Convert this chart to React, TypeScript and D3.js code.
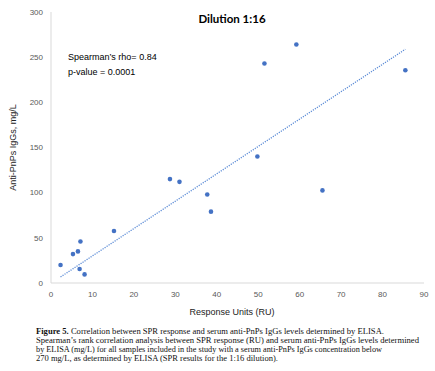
import { useEffect, useRef } from "react";
import * as d3 from "d3";

// response units (RU) and anti-PnPs IgGs (mg/L)
const responseUnits = [2.3, 5.3, 6.5, 7.1, 6.9, 8.1, 15.2, 28.7, 31.0, 37.7, 38.6, 49.8, 65.5, 51.5, 59.2, 85.5];
const igg = [20, 32, 35, 46, 15.5, 9.5, 57.5, 115, 112, 98, 79, 140, 102.5, 243, 264, 235.5];

// trendline as drawn on the figure
const trendSlope = 3.03;
const trendIntercept = -0.3;

const xTicks = [0, 10, 20, 30, 40, 50, 60, 70, 80, 90];
const yTicks = [0, 50, 100, 150, 200, 250, 300];

const title = "Dilution 1:16";
const statLines = ["Spearman\u2019s rho= 0.84", "p-value = 0.0001"];
const xLabel = "Response Units (RU)";
const yLabel = "Anti-PnPs IgGs, mg/L";
const captionLines = [
  "Correlation between SPR response and serum anti-PnPs IgGs levels determined by ELISA.",
  "Spearman\u2019s rank correlation analysis between SPR response (RU) and serum anti-PnPs IgGs levels determined",
  "by ELISA (mg/L) for all samples included in the study with a serum anti-PnPs IgGs concentration below",
  "270 mg/L, as determined by ELISA (SPR results for the 1:16 dilution).",
];
const captionWidths = [348, 383, 346, 242];

export default function App() {
  const ref = useRef<SVGSVGElement>(null);

  useEffect(() => {
    const svg = d3.select(ref.current);
    svg.selectAll("*").remove();

    const width = 435;
    const height = 371;
    const margin = { top: 12, right: 11, bottom: 88, left: 51 };

    const x = d3.scaleLinear().domain([0, 90]).range([margin.left, width - margin.right]);
    const y = d3.scaleLinear().domain([0, 300]).range([height - margin.bottom, margin.top]);

    const sans = "Liberation Sans, Arial, sans-serif";
    const axisGrey = "#d9d9d9";
    const labelGrey = "#595959";

    // axis lines
    svg.append("line")
      .attr("x1", x(0)).attr("x2", x(0))
      .attr("y1", y(0)).attr("y2", y(300))
      .attr("stroke", axisGrey).attr("stroke-width", 1);
    svg.append("line")
      .attr("x1", x(0)).attr("x2", x(90))
      .attr("y1", y(0)).attr("y2", y(0))
      .attr("stroke", axisGrey).attr("stroke-width", 1);

    // tick labels
    svg.append("g").selectAll("text").data(yTicks).join("text")
      .attr("x", x(0) - 8)
      .attr("y", d => y(d))
      .attr("dy", "0.35em")
      .attr("text-anchor", "end")
      .attr("font-family", sans)
      .attr("font-size", 8)
      .attr("fill", labelGrey)
      .text(d => d);

    svg.append("g").selectAll("text").data(xTicks).join("text")
      .attr("x", d => x(d))
      .attr("y", y(0) + 11)
      .attr("dy", "0.35em")
      .attr("text-anchor", "middle")
      .attr("font-family", sans)
      .attr("font-size", 8)
      .attr("fill", labelGrey)
      .text(d => d);

    // trendline
    const x0 = d3.min(responseUnits) as number;
    const x1 = d3.max(responseUnits) as number;
    svg.append("line")
      .attr("x1", x(x0)).attr("y1", y(trendSlope * x0 + trendIntercept))
      .attr("x2", x(x1)).attr("y2", y(trendSlope * x1 + trendIntercept))
      .attr("stroke", "#5b8bd6")
      .attr("stroke-width", 1.3)
      .attr("stroke-dasharray", "1.2 1.2");

    // points
    svg.append("g").selectAll("circle").data(responseUnits).join("circle")
      .attr("cx", d => x(d))
      .attr("cy", (d, i) => y(igg[i]))
      .attr("r", 2.3)
      .attr("fill", "#4472c4");

    // title and stats
    svg.append("text")
      .attr("x", 232).attr("y", 23)
      .attr("text-anchor", "middle")
      .attr("font-family", "Lato, Liberation Sans, sans-serif")
      .attr("font-weight", "bold")
      .attr("font-size", 11.5)
      .attr("fill", "#000")
      .text(title);

    svg.append("g").selectAll("text").data(statLines).join("text")
      .attr("x", 68)
      .attr("y", (d, i) => 60 + i * 15)
      .attr("font-family", sans)
      .attr("font-size", 9)
      .attr("fill", "#000")
      .text(d => d);

    // axis titles
    svg.append("text")
      .attr("x", 232).attr("y", 315)
      .attr("text-anchor", "middle")
      .attr("font-family", sans)
      .attr("font-size", 9)
      .attr("fill", "#222")
      .text(xLabel);

    svg.append("text")
      .attr("transform", `translate(16,${y(150)}) rotate(-90)`)
      .attr("text-anchor", "middle")
      .attr("font-family", sans)
      .attr("font-size", 9)
      .attr("fill", "#222")
      .text(yLabel);

    // caption
    const cap = svg.append("g")
      .attr("font-family", "Liberation Serif, serif")
      .attr("font-size", 8.5)
      .attr("fill", "#111");
    captionLines.forEach((line, i) => {
      const t = cap.append("text")
        .attr("x", 36)
        .attr("y", 334 + i * 9)
        .attr("textLength", captionWidths[i])
        .attr("lengthAdjust", "spacingAndGlyphs");
      if (i === 0) {
        t.append("tspan").attr("font-weight", "bold").text("Figure 5.");
        t.append("tspan").text("  " + line);
      } else {
        t.text(line);
      }
    });
  }, []);

  return (
    <svg
      ref={ref}
      width={435}
      height={371}
      style={{ position: "absolute", left: 0, top: 0, background: "#fff" }}
    />
  );
}
